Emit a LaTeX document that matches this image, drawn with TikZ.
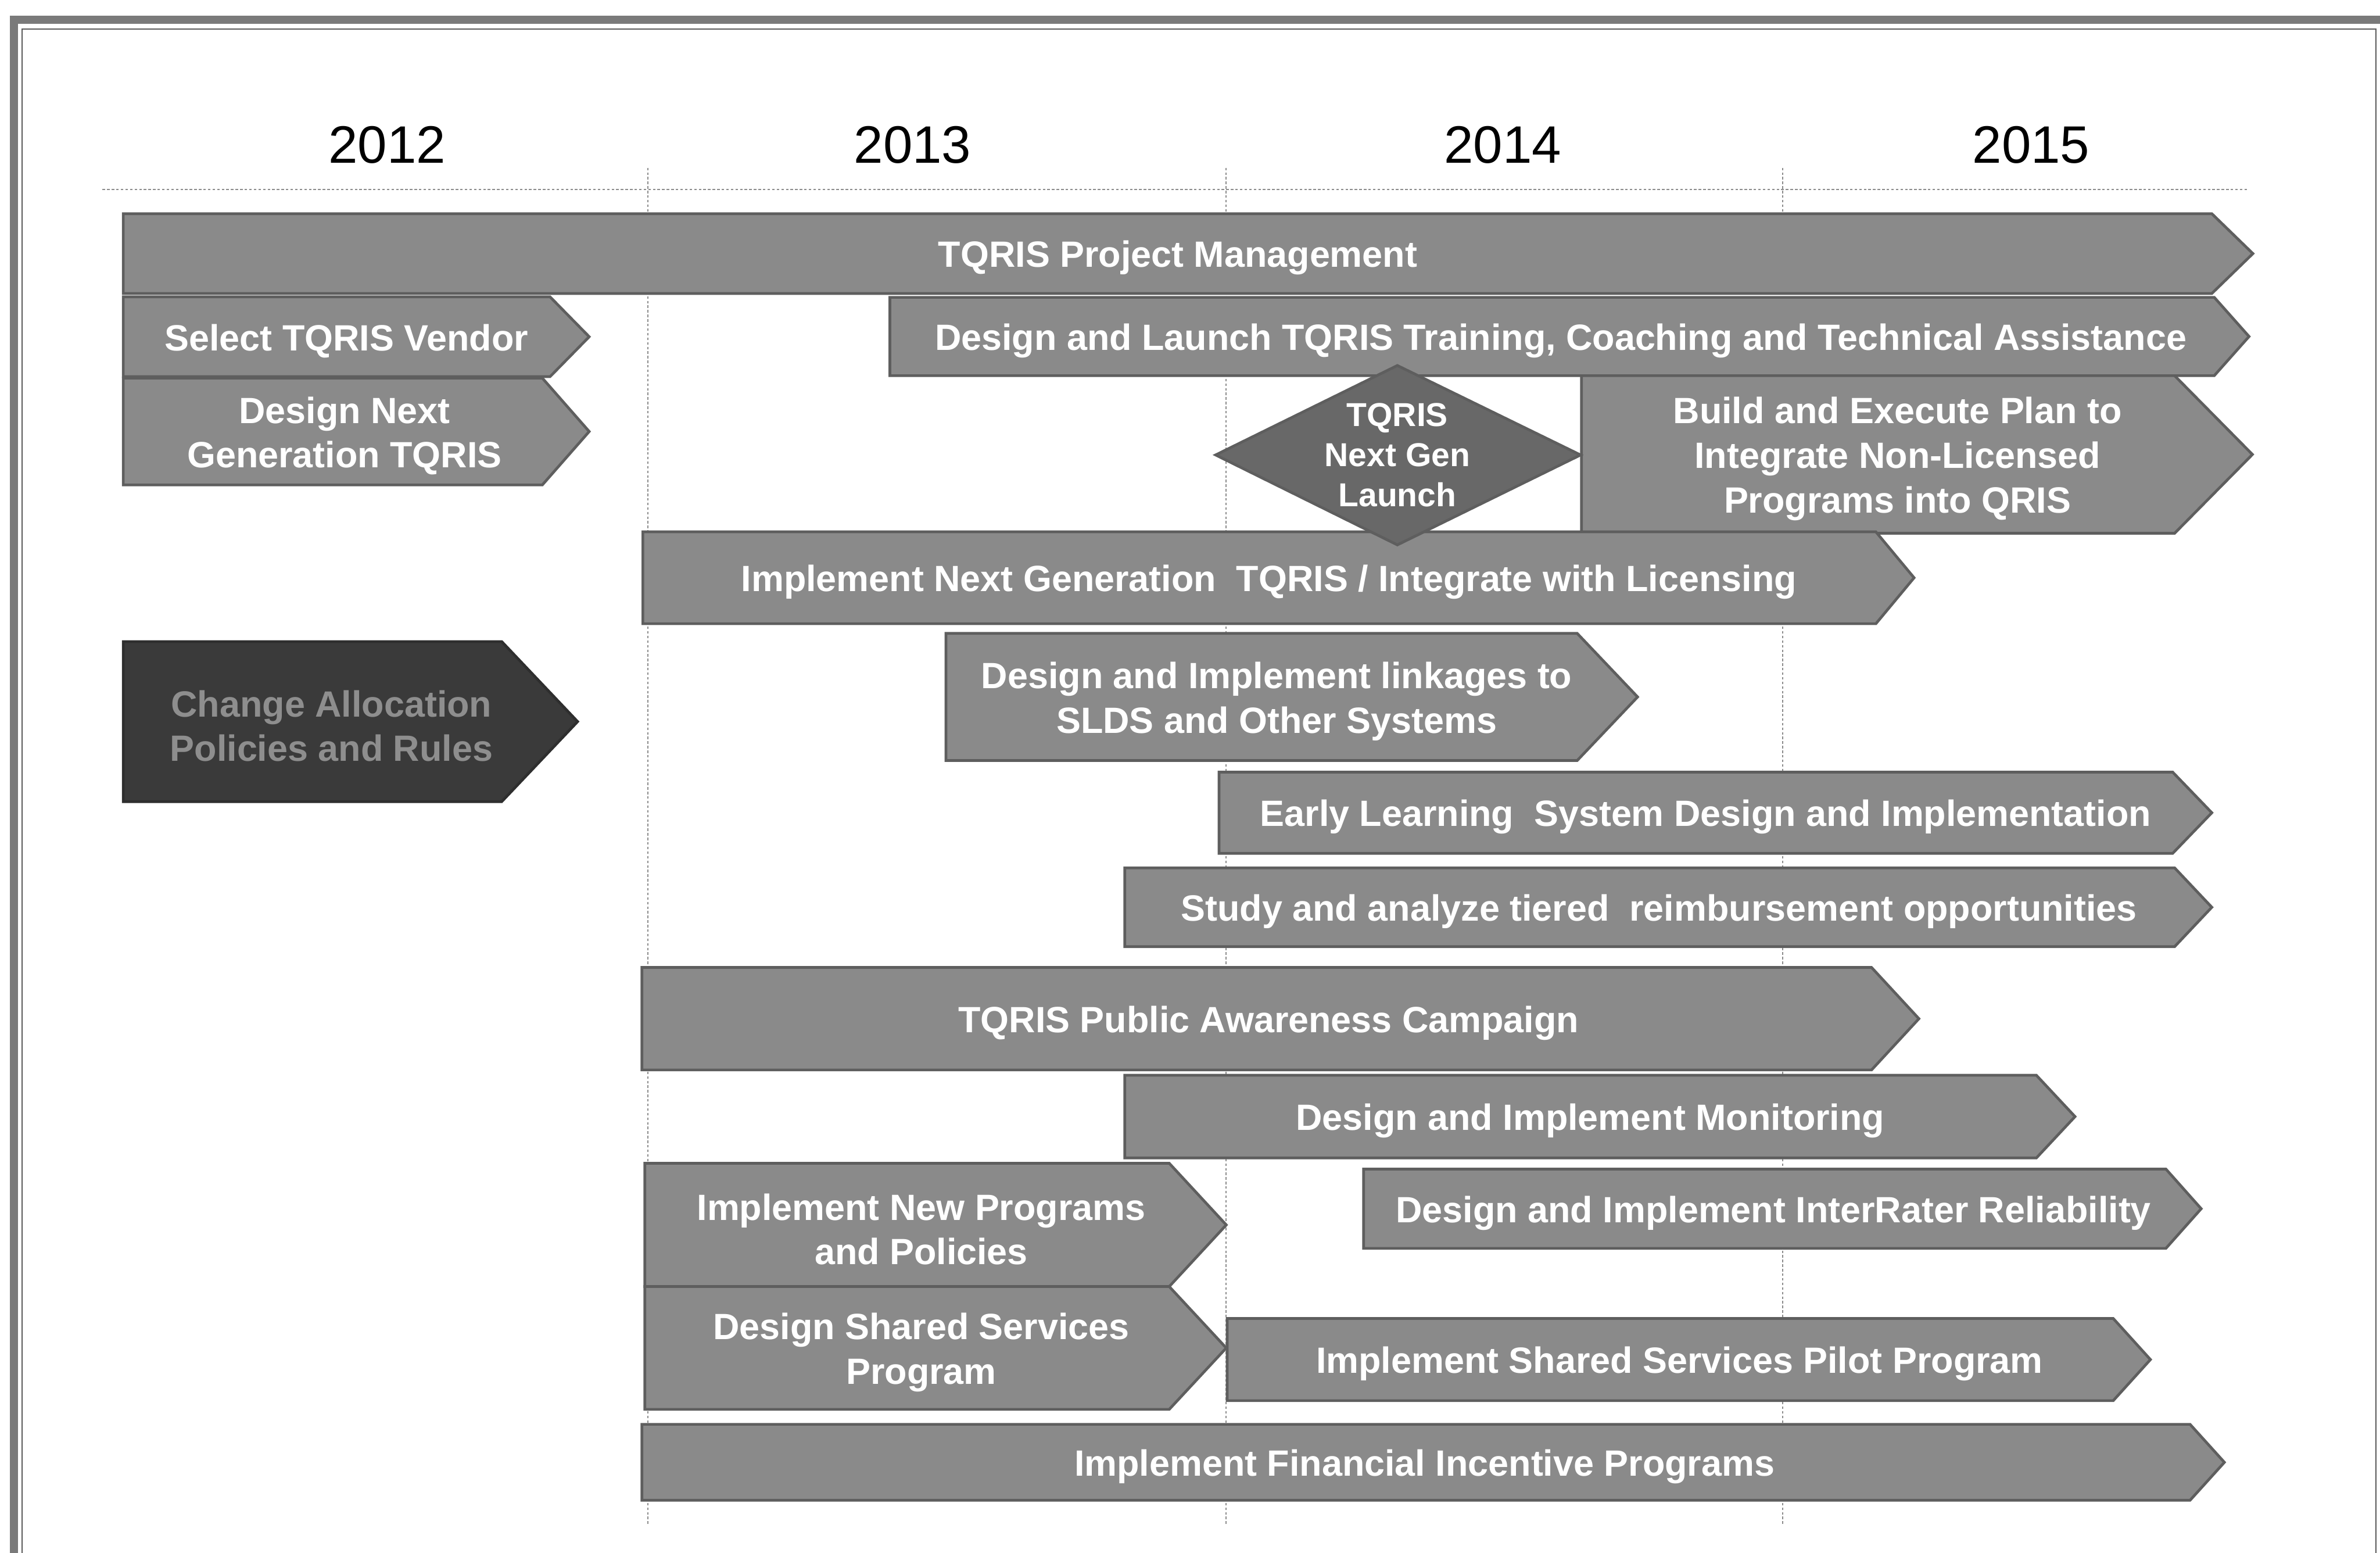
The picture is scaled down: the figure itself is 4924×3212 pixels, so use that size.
\documentclass[tikz,border=0pt]{standalone}
\usepackage{fontspec}
\setmainfont{Liberation Sans}

\definecolor{barfill}{HTML}{8A8A8A}
\definecolor{baredge}{HTML}{5E5E5E}
\definecolor{darkfill}{HTML}{3A3A3A}
\definecolor{darktext}{HTML}{8E8E8E}
\definecolor{gemfill}{HTML}{686868}
\definecolor{gridline}{HTML}{8C8C8C}
\definecolor{framegray}{HTML}{7A7A7A}

\tikzset{
  taskshape/.style={fill=barfill, draw=baredge, line width=1.6pt, line join=miter},
  darkshape/.style={fill=darkfill, draw=darkfill!80!black, line width=1.6pt, line join=miter},
  tasktext/.style={text=white, font=\bfseries\fontsize{21.5}{26.2}\selectfont, align=center, inner sep=0pt, yshift=-0.9mm},
  darktasktext/.style={tasktext, text=darktext},
  gemtext/.style={text=white, font=\bfseries\fontsize{19.5}{23.6}\selectfont, align=center, inner sep=0pt},
  yearlabel/.style={font=\fontsize{31}{37}\selectfont, text=black, inner sep=0pt},
  gridrule/.style={draw=gridline, line width=0.7pt, dash pattern=on 1.5pt off 1.2pt},
}

% Arrow-shaped task bar:
% #1 shape style, #2 text style, #3 name, #4 left x, #5 x where the point starts,
% #6 x of the point, #7 top y, #8 bottom y, #9 label
\newcommand\taskbar[9]{%
  \path[#1] (#4,#7) -- (#5,#7) -- (#6,{(#7+#8)/2}) -- (#5,#8) -- (#4,#8) -- cycle;
  \node[#2] (#3) at ({(#4+(#5+#6)/2)/2},{(#7+#8)/2}) {#9};
}

\begin{document}
\begin{tikzpicture}[x=0.1mm, y=-0.1mm]
  \useasboundingbox (0,0) rectangle (4924,3212);
  \fill[white] (0,0) rectangle (4924,3212);

  % slide frame
  \draw[framegray, line width=5pt] (29,3212) -- (29,41) -- (4924,41);
  \draw[black!65, line width=0.7pt] (46,3212) -- (46,60) -- (4916,60) -- (4916,3212);

  % year headings
  \node[yearlabel] (y2012) at (801,300) {2012};
  \node[yearlabel] (y2013) at (1888,300) {2013};
  \node[yearlabel] (y2014) at (3109,300) {2014};
  \node[yearlabel] (y2015) at (4202,300) {2015};

  % timeline rules
  \coordinate (ruleL) at (212,392);
  \coordinate (ruleR) at (4649,392);
  \draw[gridrule] (ruleL) -- (ruleR);
  \foreach \gx/\gn in {1340/a,2537/b,3688/c}{
    \coordinate (div\gn top) at (\gx,347);
    \coordinate (div\gn bot) at (\gx,3153);
    \draw[gridrule] (div\gn top) -- (div\gn bot);
  }

  % tasks
  \taskbar{taskshape}{tasktext}{pm}{255}{4576}{4661}{442}{607}{TQRIS Project Management}
  \taskbar{taskshape}{tasktext}{vendor}{255}{1138}{1219}{614}{779}{Select TQRIS Vendor}
  \taskbar{taskshape}{tasktext}{training}{1841}{4581}{4653}{615}{777}{Design and Launch TQRIS Training, Coaching and Technical Assistance}
  \taskbar{taskshape}{tasktext}{designng}{255}{1122}{1219}{782}{1003}{Design Next\\Generation TQRIS}
  \taskbar{taskshape}{tasktext}{integrate}{3272}{4499}{4660}{777}{1103}{Build and Execute Plan to\\Integrate Non-Licensed\\Programs into QRIS}
  \taskbar{taskshape}{tasktext}{implng}{1330}{3881}{3960}{1100}{1290}{Implement Next Generation~ TQRIS / Integrate with Licensing}
  \taskbar{darkshape}{darktasktext}{alloc}{255}{1038}{1195}{1327}{1658}{Change Allocation\\Policies and Rules}
  \taskbar{taskshape}{tasktext}{slds}{1957}{3263}{3388}{1310}{1573}{Design and Implement linkages to\\SLDS and Other Systems}
  \taskbar{taskshape}{tasktext}{els}{2522}{4495}{4576}{1597}{1765}{Early Learning~ System Design and Implementation}
  \taskbar{taskshape}{tasktext}{tiered}{2327}{4499}{4576}{1795}{1958}{Study and analyze tiered~ reimbursement opportunities}
  \taskbar{taskshape}{tasktext}{awareness}{1328}{3872}{3970}{2001}{2213}{TQRIS Public Awareness Campaign}
  \taskbar{taskshape}{tasktext}{monitor}{2327}{4213}{4293}{2224}{2395}{Design and Implement Monitoring}
  \taskbar{taskshape}{tasktext}{newprog}{1334}{2419}{2537}{2406}{2661}{Implement New Programs\\and Policies}
  \taskbar{taskshape}{tasktext}{irr}{2821}{4481}{4554}{2418}{2582}{Design and Implement InterRater Reliability}
  \taskbar{taskshape}{tasktext}{ssdesign}{1334}{2419}{2537}{2661}{2915}{Design Shared Services\\Program}
  \taskbar{taskshape}{tasktext}{sspilot}{2539}{4372}{4449}{2727}{2897}{Implement Shared Services Pilot Program}
  \taskbar{taskshape}{tasktext}{incentive}{1328}{4531}{4602}{2946}{3103}{Implement Financial Incentive Programs}

  % launch milestone
  \path[fill=gemfill, draw=baredge, line width=1.6pt]
    (2515,941) -- (2891,756) -- (3270,941) -- (2891,1127) -- cycle;
  \node[gemtext] (launch) at (2891,941) {TQRIS\\Next Gen\\Launch};
\end{tikzpicture}
\end{document}
